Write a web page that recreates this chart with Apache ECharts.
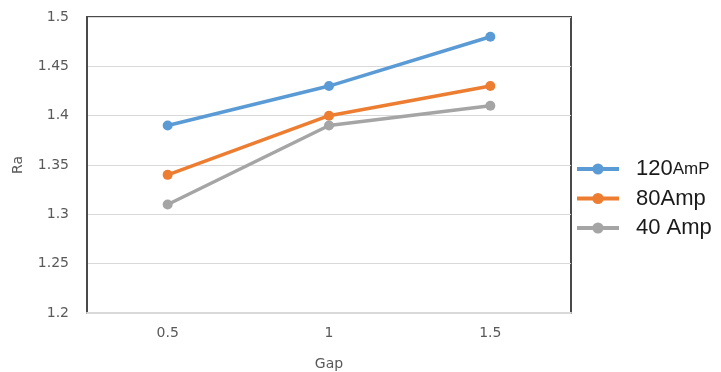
<!DOCTYPE html>
<html>
<head>
<meta charset="utf-8">
<script src="https://cdn.jsdelivr.net/npm/echarts@6/dist/echarts.min.js"></script>
<style>
html,body{margin:0;padding:0;background:#fff;}
#chart{width:721px;height:372px;}
</style>
</head>
<body>
<div id="chart"></div>
<script>
// Surface roughness (Ra) against gap for three currents
const gaps = ['0.5', '1', '1.5'];
const ra120 = [1.39, 1.43, 1.48];
const ra80 = [1.34, 1.40, 1.43];
const ra40 = [1.31, 1.39, 1.41];
const seriesNames = ['120AmP', '80Amp', '40 Amp'];
const colors = ['#5B9BD5', '#ED7D31', '#A5A5A5'];

const chart = echarts.init(document.getElementById('chart'));

function lineSeries(name, data, color) {
  return {
    name: name,
    type: 'line',
    data: data,
    symbol: 'circle',
    symbolSize: 10,
    lineStyle: { width: 3.5, color: color },
    itemStyle: { color: color },
    emphasis: { disabled: true }
  };
}

const axisFont = { color: '#595959', fontSize: 14, fontFamily: 'DejaVu Sans' };

chart.setOption({
  animation: false,
  color: colors,
  grid: {
    left: 87, right: 150, top: 17, bottom: 59,
    containLabel: false,
    outerBoundsMode: 'none',
    show: true,
    borderColor: '#4a4a4a',
    borderWidth: 2
  },
  xAxis: {
    type: 'category',
    data: gaps,
    boundaryGap: true,
    name: 'Gap',
    nameLocation: 'middle',
    nameGap: 44,
    nameTextStyle: axisFont,
    axisLine: { lineStyle: { color: '#d9d9d9', width: 2 } },
    axisTick: { show: false },
    axisLabel: Object.assign({ margin: 13 }, axisFont)
  },
  yAxis: {
    type: 'value',
    min: 1.2,
    max: 1.5,
    interval: 0.05,
    name: 'Ra',
    nameLocation: 'middle',
    nameGap: 62,
    nameTextStyle: axisFont,
    axisLine: { show: true, lineStyle: { color: '#4a4a4a', width: 2 } },
    axisTick: { show: false },
    splitLine: { lineStyle: { color: '#d9d9d9', width: 1 } },
    axisLabel: Object.assign({
      margin: 18,
      formatter: function (v) { return String(Math.round(v * 100) / 100); }
    }, axisFont)
  },
  legend: {
    orient: 'vertical',
    left: 575,
    top: 158,
    padding: 0,
    itemWidth: 42,
    itemHeight: 14,
    itemGap: 7.5,
    data: seriesNames,
    lineStyle: { width: 4 },
    textStyle: {
      fontFamily: 'Liberation Sans',
      fontSize: 22,
      color: '#1a1a1a',
      padding: [0, 0, 0, 12],
      rich: {
        big: { fontFamily: 'Liberation Sans', fontSize: 22, color: '#1a1a1a' },
        small: { fontFamily: 'Liberation Sans', fontSize: 17, color: '#1a1a1a' }
      }
    },
    formatter: function (name) {
      if (name === '120AmP') return '{big|120}{small|AmP}';
      return name;
    }
  },
  series: [
    lineSeries(seriesNames[0], ra120, colors[0]),
    lineSeries(seriesNames[1], ra80, colors[1]),
    lineSeries(seriesNames[2], ra40, colors[2])
  ]
});
</script>
</body>
</html>
